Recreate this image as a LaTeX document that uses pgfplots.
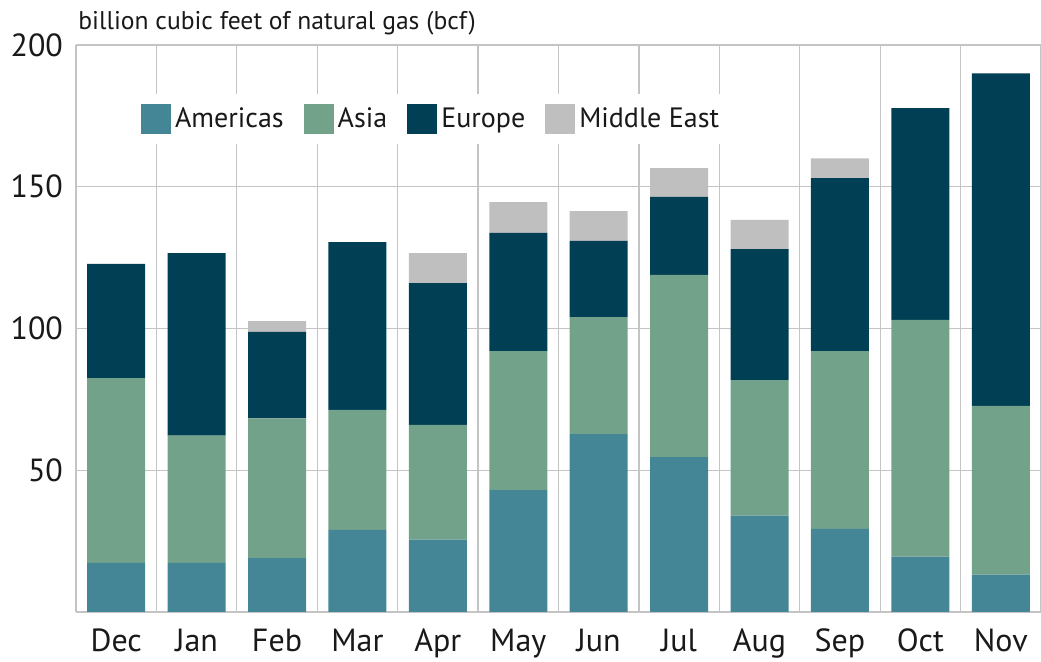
\documentclass[border=0pt]{standalone}
\usepackage{pgfplots}
\pgfplotsset{compat=1.18}
\usepackage{fontspec}
\setmainfont{PT Sans}
\definecolor{cAm}{RGB}{69,134,150}
\definecolor{cAs}{RGB}{114,163,138}
\definecolor{cEu}{RGB}{1,63,85}
\definecolor{cMe}{RGB}{191,191,191}
\definecolor{cGrid}{RGB}{196,196,196}
\begin{document}
\begin{tikzpicture}
\begin{axis}[
  name=main,
  scale only axis,
  width=482.5pt, height=283.5pt,
  ybar stacked, bar width=29pt,
  xmin=-0.5, xmax=11.5, ymin=0, ymax=200,
  xtick={0,...,11},
  xticklabels={Dec,Jan,Feb,Mar,Apr,May,Jun,Jul,Aug,Sep,Oct,Nov},
  minor xtick={-0.5,0.5,...,11.5},
  xminorgrids, ymajorgrids,
  ytick={50,100,150,200},
  extra y ticks={0}, extra y tick labels={},
  extra y tick style={grid=major},
  grid style={cGrid, line width=0.6pt},
  minor grid style={cGrid, line width=0.6pt},
  axis line style={draw=none},
  major tick length=0pt, minor tick length=0pt,
  tick style={draw=none},
  /pgf/number format/assume math mode=true,
  ticklabel style={font=\fontsize{16}{19}\selectfont, text=black!90},
  yticklabel style={xshift=-3pt},
  xticklabel style={yshift=-5pt},
  legend style={at={(rel axis cs:0.369,0.8695)}, anchor=center,
    fill=white, draw=none, legend columns=4,
    font=\fontsize{14}{17}\selectfont, text=black!90,
    /tikz/every even column/.append style={column sep=8pt},
    inner xsep=6pt, inner ysep=5pt},
  legend image code/.code={\fill[#1] (0pt,-7.5pt) rectangle (15pt,7.5pt);},
  every axis plot/.append style={draw=none},
]
\addplot[fill=cAm] coordinates {(0,17.3) (1,17.3) (2,19) (3,29) (4,25.5) (5,43) (6,62.7) (7,54.6) (8,34) (9,29.3) (10,19.5) (11,13.2)};
\addplot[fill=cAs] coordinates {(0,65.2) (1,44.9) (2,49.3) (3,42.3) (4,40.5) (5,49) (6,41.3) (7,64.3) (8,47.8) (9,62.7) (10,83.5) (11,59.5)};
\addplot[fill=cEu] coordinates {(0,40.3) (1,64.4) (2,30.5) (3,59.2) (4,50) (5,41.7) (6,26.9) (7,27.5) (8,46.2) (9,61) (10,74.7) (11,117.3)};
\addplot[fill=cMe] coordinates {(0,0) (1,0) (2,3.8) (3,0) (4,10.6) (5,10.9) (6,10.5) (7,10.2) (8,10.3) (9,7) (10,0) (11,0)};
\legend{Americas,Asia,Europe,Middle East}
\end{axis}
\node[anchor=base west, inner sep=0pt, font=\fontsize{12.8}{15}\selectfont, text=black!90] at ([xshift=1pt,yshift=7.5pt]main.north west) {billion cubic feet of natural gas (bcf)};
\pgfresetboundingbox
\path[use as bounding box] (-38pt,-25pt) rectangle (482.5pt,306pt);
\end{tikzpicture}
\end{document}
